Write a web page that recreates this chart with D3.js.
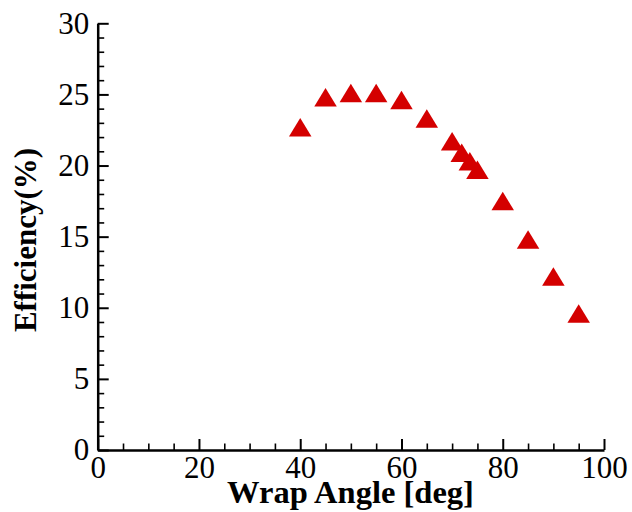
<!DOCTYPE html>
<html><head><meta charset="utf-8">
<script src="https://cdn.jsdelivr.net/npm/d3@7"></script>
<style>body{margin:0;background:#fff}svg{display:block}</style>
</head><body>
<svg id="c" width="632" height="512"></svg>
<script>
const wrapAngle = [40, 45, 50, 55, 60, 65, 70, 71.9, 73.5, 75, 80, 85, 90, 95];
const efficiency = [22.7, 24.8, 25.1, 25.1, 24.6, 23.3, 21.7, 20.9, 20.3, 19.7, 17.5, 14.8, 12.2, 9.6];
const xTicks = [0, 20, 40, 60, 80, 100];
const yTicks = [0, 5, 10, 15, 20, 25, 30];
const xTitle = "Wrap Angle [deg]";
const yTitle = "Efficiency(%)";

const svg = d3.select("#c");
const L = 97.7, R = 604, T = 23.3, B = 450;
const x = d3.scaleLinear().domain([0, 100]).range([L, R]);
const y = d3.scaleLinear().domain([0, 30]).range([B, T]);
const font = "'Liberation Serif','Times New Roman',serif";

// minor ticks
svg.append("g").attr("transform", `translate(0,${B})`)
  .call(d3.axisBottom(x).tickValues(d3.range(0, 101, 5).filter(v => v % 20)).tickSize(-6.5).tickFormat(""))
  .call(g => g.select(".domain").remove())
  .call(g => g.selectAll("line").attr("stroke", "#000").attr("stroke-width", 1.6));
svg.append("g").attr("transform", `translate(${L},0)`)
  .call(d3.axisLeft(y).tickValues(d3.range(0, 31, 1).filter(v => v % 5)).tickSize(-6.5).tickFormat(""))
  .call(g => g.select(".domain").remove())
  .call(g => g.selectAll("line").attr("stroke", "#000").attr("stroke-width", 1.6));

// major
const gx = svg.append("g").attr("transform", `translate(0,${B})`)
  .call(d3.axisBottom(x).tickValues(xTicks).tickSize(-11).tickSizeOuter(0).tickPadding(6).tickFormat(d3.format("d")));
const gy = svg.append("g").attr("transform", `translate(${L},0)`)
  .call(d3.axisLeft(y).tickValues(yTicks).tickSize(-11).tickSizeOuter(0).tickPadding(8.5).tickFormat(d3.format("d")));
[gx, gy].forEach(g => {
  g.select(".domain").attr("stroke", "#000").attr("stroke-width", 2.5);
  g.selectAll(".tick line").attr("stroke", "#000").attr("stroke-width", 2);
  g.selectAll("text").attr("fill", "#000").style("font-family", font).style("font-size", "31px");
});

// markers
const w = 22.5, h = 18.5;
svg.append("g").selectAll("path").data(wrapAngle).join("path")
  .attr("d", `M0,${-h/2}L${w/2},${h/2}L${-w/2},${h/2}Z`)
  .attr("transform", (d, i) => `translate(${x(d)},${y(efficiency[i])})`)
  .attr("fill", "#d40000");

// titles
svg.append("text").attr("x", 350.5).attr("y", 503).attr("text-anchor", "middle")
  .style("font-family", font).style("font-weight", "bold").style("font-size", "32.5px").text(xTitle);
svg.append("text").attr("transform", "translate(36,240) rotate(-90)").attr("text-anchor", "middle")
  .style("font-family", font).style("font-weight", "bold").style("font-size", "31px").text(yTitle);
</script>
</body></html>
